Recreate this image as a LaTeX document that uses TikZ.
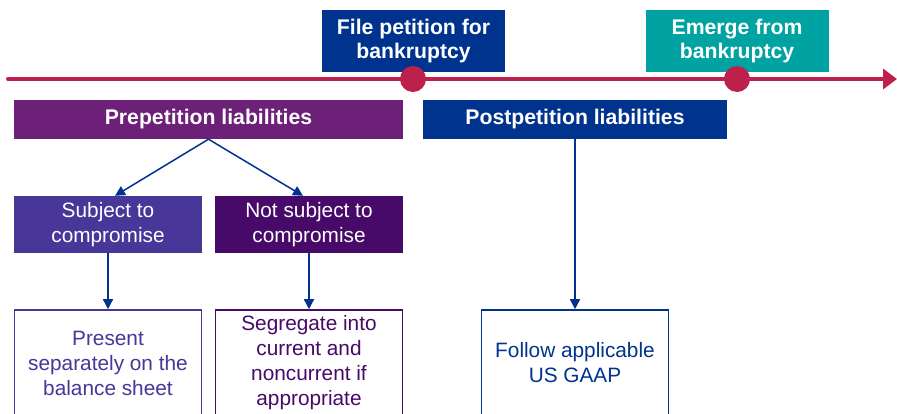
\documentclass[tikz,border=0pt]{standalone}
\usepackage{fontspec}
\setmainfont{Liberation Sans}
\usepackage{xcolor}
\usepackage{tikz}
\usetikzlibrary{arrows.meta, positioning, calc}
\definecolor{kpnavy}{HTML}{00338D}
\definecolor{kpteal}{HTML}{00A3A1}
\definecolor{kpplum}{HTML}{6D2077}
\definecolor{kpviolet}{HTML}{483698}
\definecolor{kpgrape}{HTML}{470A68}
\definecolor{kpred}{HTML}{BC204B}

\begin{document}
\begin{tikzpicture}[
    x=1pt, y=-1pt,
    event/.style={rectangle, fill=#1, text=white, align=center, inner sep=0pt, minimum width=183pt, minimum height=62pt, font=\fontsize{21.2}{24}\selectfont\bfseries},
    phase/.style={rectangle, fill=#1, text=white, align=center, inner sep=0pt, minimum height=39pt, font=\fontsize{21.2}{24}\selectfont\bfseries},
    kind/.style={rectangle, fill=#1, text=white, align=center, inner sep=0pt, minimum width=188pt, minimum height=57pt, font=\fontsize{20.8}{25}\selectfont},
    rule/.style={rectangle, draw=#1, line width=1.6pt, text=#1, fill=white, align=center, inner sep=0pt, minimum width=187pt, minimum height=106pt, font=\fontsize{20.8}{25}\selectfont},
    dot/.style={circle, fill=kpred, inner sep=0pt, minimum size=26pt},
    arrow/.style={-{Triangle[length=10pt, width=10pt]}, line width=1.5pt, color=kpnavy}
]
\useasboundingbox (0,0) rectangle (897,413);
\clip (0,0) rectangle (897,413);

% Timeline
\coordinate (tstart) at (8,79);
\coordinate (tend) at (897,79);
\draw[kpred, line width=4pt, line cap=round, -{Triangle[length=14pt, width=20pt]}] (tstart) -- (tend);

% Events
\node[event=kpnavy] (file) at (413.5,41) {File petition for\\bankruptcy};
\node[event=kpteal] (emerge) at (737,41) {Emerge from\\bankruptcy};
\node[dot] (dfile) at (413,79) {};
\node[dot] (demerge) at (737,79) {};

% Liabilities
\node[phase=kpplum, minimum width=389pt] (pre) at (208.5,119.5) {Prepetition liabilities};
\node[phase=kpnavy, minimum width=304pt] (post) at (575,119.5) {Postpetition liabilities};

% Compromise
\node[kind=kpviolet] (subj) at (108,224.5) {Subject to\\compromise};
\node[kind=kpgrape] (notsubj) at (309,224.5) {Not subject to\\compromise};

% Treatment
\node[rule=kpviolet] (present) at (108,363) {Present\\separately on the\\balance sheet};
\node[rule=kpgrape] (segregate) at (309,363) {Segregate into\\current and\\noncurrent if\\appropriate};
\node[rule=kpnavy] (follow) at (575,363) {Follow applicable\\US GAAP};

% Connectors
\draw[arrow] (pre.south) -- ([xshift=7pt]subj.north);
\draw[arrow] (pre.south) -- ([xshift=-6pt]notsubj.north);
\draw[arrow] (subj.south) -- (present.north);
\draw[arrow] (notsubj.south) -- (segregate.north);
\draw[arrow] (post.south) -- (follow.north);

\end{tikzpicture}
\end{document}
